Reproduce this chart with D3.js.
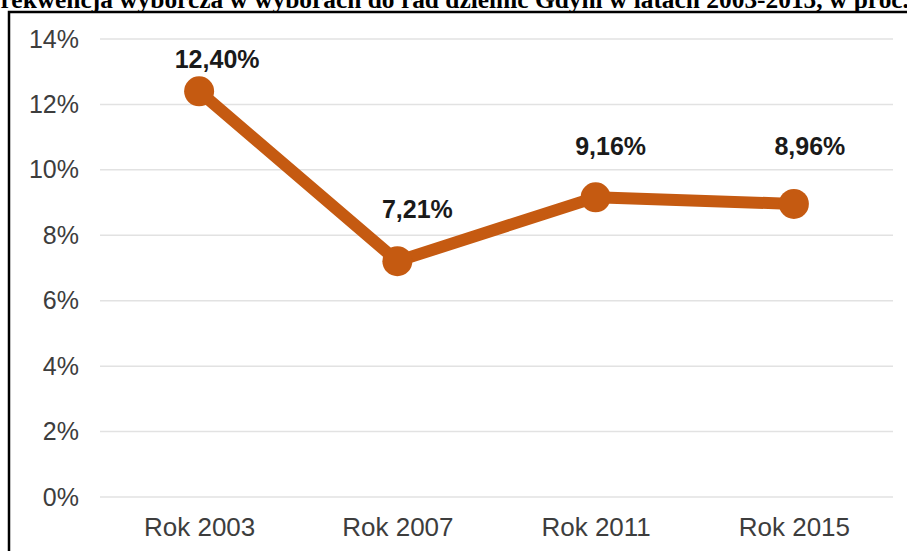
<!DOCTYPE html>
<html>
<head>
<meta charset="utf-8">
<script src="https://cdn.jsdelivr.net/npm/d3@7"></script>
<style>
  html, body { margin: 0; padding: 0; background: #fff; overflow: hidden; }
  svg { display: block; }
</style>
</head>
<body>
<svg id="chart" width="907" height="551"></svg>
<script>
// Turnout in district council elections, Gdynia
const title = "Frekwencja wyborcza w wyborach do rad dzielnic Gdyni w latach 2003-2015, w proc.";
const categories = ["Rok 2003", "Rok 2007", "Rok 2011", "Rok 2015"];
const turnout = [12.40, 7.21, 9.16, 8.96];
const valueLabels = ["12,40%", "7,21%", "9,16%", "8,96%"];
const yTicks = [0, 2, 4, 6, 8, 10, 12, 14];
const labelDx = [18, 20, 15, 16];
const labelDy = [-23, -43, -42, -49];

const W = 907, H = 551;
const margin = { left: 100, right: 14, top: 39, bottom: 54 };
const svg = d3.select("#chart");

// frame around the chart
svg.append("path")
  .attr("d", `M9,${H + 2} L9,12 L${W + 2},12`)
  .attr("fill", "none")
  .attr("stroke", "#000")
  .attr("stroke-width", 2.5);

// title
svg.append("text")
  .attr("x", 447)
  .attr("y", 8)
  .attr("text-anchor", "middle")
  .attr("font-family", "'Liberation Serif', 'Times New Roman', serif")
  .attr("font-weight", "bold")
  .attr("font-size", 25.4)
  .attr("fill", "#000")
  .text(title);

const x = d3.scalePoint()
  .domain(categories)
  .range([margin.left, W - margin.right])
  .padding(0.5);

const y = d3.scaleLinear()
  .domain([0, 14])
  .range([H - margin.bottom, margin.top]);

// horizontal gridlines
svg.append("g")
  .selectAll("line")
  .data(yTicks)
  .join("line")
  .attr("x1", margin.left)
  .attr("x2", W - margin.right)
  .attr("y1", d => y(d))
  .attr("y2", d => y(d))
  .attr("stroke", "#e2e2e2")
  .attr("stroke-width", 1.5);

const tickFont = "'Liberation Sans', Arial, sans-serif";

// y axis labels
const yAxis = svg.append("g")
  .attr("transform", `translate(${margin.left - 21},0)`)
  .call(d3.axisLeft(y).tickValues(yTicks).tickFormat(d => d + "%").tickSize(0).tickPadding(0));
yAxis.select(".domain").remove();
yAxis.selectAll("text")
  .attr("font-family", tickFont)
  .attr("font-size", 25)
  .attr("fill", "#3d3d3d");

// x axis labels
const xAxis = svg.append("g")
  .attr("transform", `translate(0,${H - margin.bottom + 21})`)
  .call(d3.axisBottom(x).tickSize(0).tickPadding(0));
xAxis.select(".domain").remove();
xAxis.selectAll("text")
  .attr("font-family", tickFont)
  .attr("font-size", 26)
  .attr("fill", "#3d3d3d");

const color = "#c55a11";

// turnout line
const line = d3.line()
  .x((d, i) => x(categories[i]))
  .y(d => y(d));

svg.append("path")
  .datum(turnout)
  .attr("d", line)
  .attr("fill", "none")
  .attr("stroke", color)
  .attr("stroke-width", 12)
  .attr("stroke-linejoin", "round");

// markers
svg.append("g")
  .selectAll("circle")
  .data(turnout)
  .join("circle")
  .attr("cx", (d, i) => x(categories[i]))
  .attr("cy", d => y(d))
  .attr("r", 15)
  .attr("fill", color);

// value labels
svg.append("g")
  .selectAll("text")
  .data(turnout)
  .join("text")
  .attr("x", (d, i) => x(categories[i]) + labelDx[i])
  .attr("y", (d, i) => y(d) + labelDy[i])
  .attr("text-anchor", "middle")
  .attr("font-family", tickFont)
  .attr("font-weight", "bold")
  .attr("font-size", 25)
  .attr("fill", "#1a1a1a")
  .text((d, i) => valueLabels[i]);
</script>
</body>
</html>
